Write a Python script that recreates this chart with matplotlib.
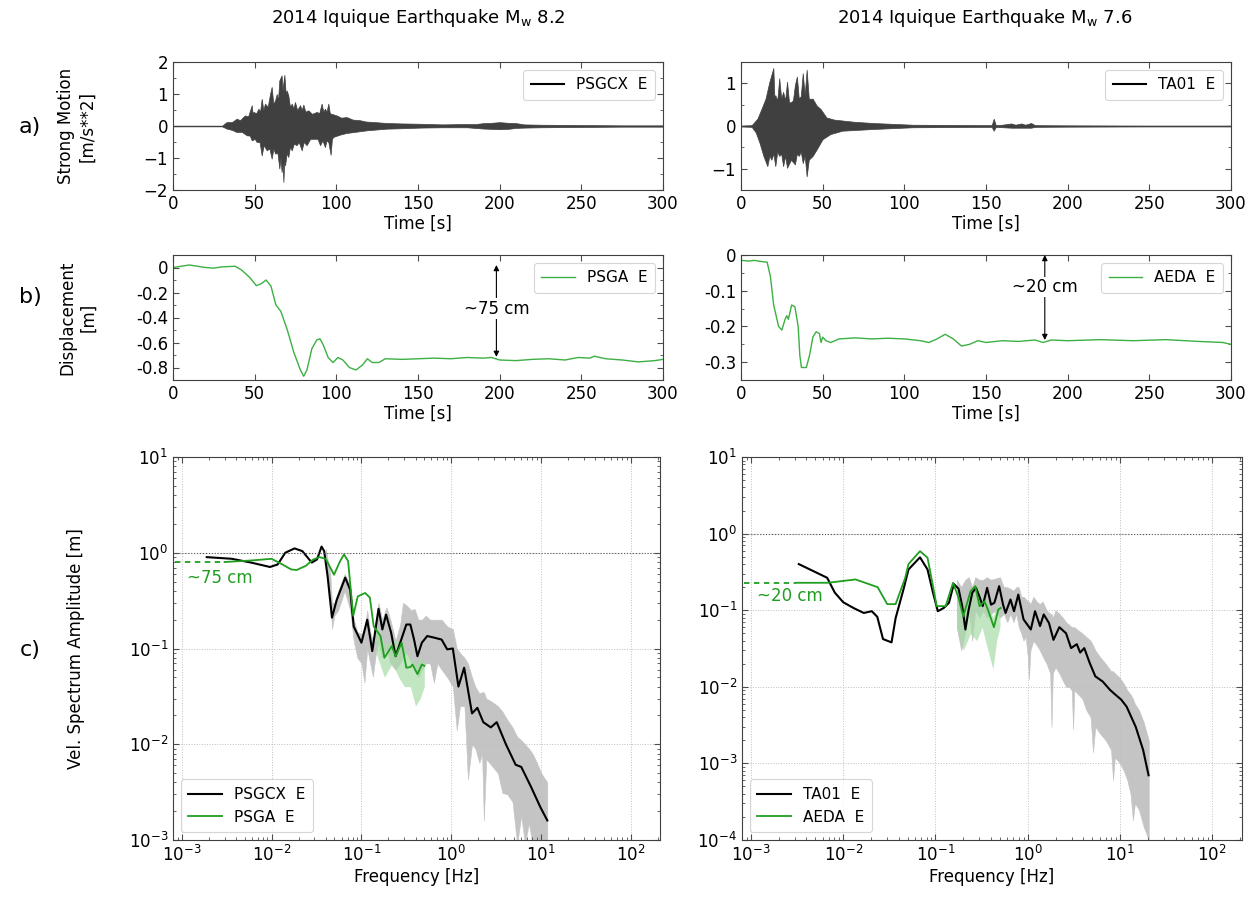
import numpy as np
import matplotlib.pyplot as plt
from matplotlib.ticker import MultipleLocator, LogLocator, NullFormatter

plt.rcParams['font.family'] = ['DejaVu Sans']

# ---- a) strong motion: upper and lower envelope of the trace, (time, value) ----
env_up_a1 = [(0, 0.01), (30, 0.01), (32.9, 0.125), (36, 0.12), (39, 0.23), (41, 0.18), (44, 0.33), (46, 0.3),
             (48.2, 0.65), (48.8, 0.35), (49.2, 0.44), (51, 0.4), (52.3, 0.54), (53.3, 0.45), (54.3, 0.85),
             (55.3, 0.5), (56.3, 0.7), (58, 0.6), (59.4, 1.0), (60.4, 1.22), (61.4, 0.7), (62.5, 0.8),
             (63.5, 1.0), (64.3, 0.8), (65.1, 1.43), (66.5, 1.58), (67.1, 1.1), (67.6, 1.37), (68.2, 1.6),
             (69, 1.0), (69.6, 1.11), (70.6, 0.96), (71.6, 0.6), (72.7, 0.7), (73.7, 0.55), (74.7, 0.75),
             (76, 0.5), (77.8, 0.65), (78.8, 0.5), (79.8, 0.67), (81, 0.45), (82.9, 0.49), (85, 0.38),
             (88, 0.44), (89.5, 0.4), (91, 0.7), (92, 0.45), (93, 0.54), (94, 0.45), (95.1, 0.7), (96, 0.4),
             (97.1, 0.38), (100.2, 0.33), (103, 0.26), (106.3, 0.28), (110, 0.2), (114.5, 0.18), (118, 0.14),
             (122.6, 0.125), (130.8, 0.094), (140, 0.08), (151.2, 0.07), (165, 0.05), (175.7, 0.06),
             (185, 0.06), (190, 0.09), (195, 0.1), (200, 0.12), (205, 0.1), (210, 0.09), (215, 0.05),
             (225, 0.04), (250, 0.03), (275, 0.02), (300, 0.02)]
env_lo_a1 = [(0, -0.01), (30, -0.01), (32.9, -0.083), (36, -0.12), (39, -0.19), (42, -0.18), (45.1, -0.29),
             (47, -0.3), (48.2, -0.45), (50, -0.4), (51.2, -0.5), (53, -0.5), (54.3, -0.92), (55.5, -0.6),
             (57.4, -0.76), (59, -0.7), (60.4, -1.02), (61.5, -0.7), (62.5, -0.86), (64, -0.85), (65.1, -1.33),
             (65.8, -1.0), (66.5, -1.44), (67.1, -1.2), (67.6, -1.75), (68.1, -1.1), (68.6, -1.23), (69.6, -0.85),
             (70.6, -0.97), (71.6, -0.65), (72.7, -0.76), (74, -0.55), (75.7, -0.6), (77, -0.5), (78.8, -0.76),
             (80, -0.5), (81.8, -0.6), (84, -0.4), (86.9, -0.4), (88.5, -0.4), (90, -0.6), (91.5, -0.45),
             (93, -0.66), (94, -0.45), (95.1, -0.5), (96.5, -0.9), (97.3, -0.4), (98.2, -0.34), (102.2, -0.27),
             (106, -0.22), (110.4, -0.19), (118.6, -0.135), (130.8, -0.083), (140, -0.07), (151.2, -0.05),
             (165, -0.04), (180, -0.04), (190, -0.08), (195, -0.09), (200, -0.1), (205, -0.09), (210, -0.06),
             (215, -0.05), (225, -0.04), (250, -0.03), (275, -0.02), (300, -0.02)]

env_up_a2 = [(0, 0.01), (6.5, 0.02), (10, 0.17), (12.5, 0.4), (15, 0.64), (17.4, 1.04), (19.8, 1.36), (20.4, 0.7),
             (21, 0.72), (22.2, 0.6), (23.4, 1.12), (24.6, 0.65), (25.8, 0.8), (27, 0.6), (28.2, 1.04), (29.4, 0.55),
             (30.6, 0.56), (31.8, 0.6), (33, 0.96), (34.2, 1.16), (35.4, 0.64), (36.6, 0.7), (37.8, 1.24), (39, 0.72),
             (40.2, 1.32), (41.5, 0.64), (43.9, 0.64), (46.3, 0.48), (48.7, 0.4), (52.3, 0.2), (57, 0.15), (69, 0.1),
             (81, 0.07), (105, 0.03), (129, 0.025), (150, 0.02), (153.5, 0.02), (154.7, 0.17), (156, 0.02),
             (160, 0.03), (165.5, 0.06), (168, 0.03), (171.6, 0.06), (174, 0.03), (177.6, 0.07), (180, 0.02),
             (201, 0.015), (250, 0.01), (300, 0.01)]
env_lo_a2 = [(0, -0.01), (6.5, -0.02), (9, -0.15), (11.3, -0.39), (13.7, -0.7), (16.1, -0.94), (17.4, -0.7),
             (18.6, -0.79), (19.8, -0.65), (21, -0.94), (22.2, -0.6), (23.4, -0.7), (24.6, -0.65), (25.8, -0.94),
             (27, -0.7), (28.2, -0.98), (30.6, -0.79), (33, -0.9), (34.2, -0.65), (35.4, -0.7), (36.6, -0.6),
             (37.8, -0.87), (39, -0.7), (40.2, -1.18), (41.5, -0.79), (43.9, -0.7), (46.3, -0.55), (49.9, -0.31),
             (54.7, -0.19), (62, -0.11), (81, -0.07), (105, -0.03), (150, -0.02), (153.5, -0.02), (154.7, -0.11),
             (156, -0.02), (165.5, -0.04), (171.6, -0.04), (177.6, -0.04), (180, -0.02), (201, -0.015),
             (250, -0.01), (300, -0.01)]

# ---- b) displacement ----
t_b1 = [0, 10, 20, 25, 30, 38, 42, 47, 51, 54, 57, 60, 63, 66, 70, 74, 78, 80, 82, 85,
        88, 90, 92, 95, 98, 101, 104, 108, 112, 116, 119, 122, 126, 130, 140, 150, 160, 170, 180, 190,
        195, 200, 210, 220, 230, 240, 248, 255, 258, 265, 275, 285, 295, 300]
d_b1 = [0.0, 0.02, 0.0, -0.005, 0.005, 0.01, -0.02, -0.08, -0.145, -0.13, -0.1, -0.15, -0.3, -0.35, -0.5, -0.68, -0.82, -0.87, -0.82, -0.65,
        -0.58, -0.57, -0.62, -0.72, -0.76, -0.72, -0.74, -0.8, -0.82, -0.78, -0.73, -0.76, -0.76, -0.73, -0.735, -0.73, -0.725, -0.73, -0.72, -0.725,
        -0.72, -0.74, -0.745, -0.735, -0.73, -0.74, -0.72, -0.725, -0.71, -0.73, -0.74, -0.755, -0.745, -0.735]

t_b2 = [0, 5, 8, 12, 16, 18, 20, 23, 25, 27, 28, 29, 31, 33, 35, 36, 37, 40, 42, 44,
        46, 48, 49, 50, 52, 55, 60, 70, 80, 90, 100, 110, 115, 120, 125, 130, 135, 140, 145, 150,
        160, 170, 180, 185, 190, 200, 220, 240, 260, 280, 295, 300]
d_b2 = [-0.015, -0.017, -0.015, -0.018, -0.02, -0.06, -0.14, -0.2, -0.21, -0.18, -0.17, -0.18, -0.14, -0.145, -0.2, -0.28, -0.315, -0.315, -0.28, -0.23,
        -0.215, -0.22, -0.245, -0.23, -0.24, -0.245, -0.235, -0.232, -0.235, -0.233, -0.235, -0.24, -0.245, -0.235, -0.222, -0.235, -0.255, -0.25, -0.24, -0.245,
        -0.24, -0.242, -0.238, -0.245, -0.238, -0.24, -0.237, -0.24, -0.237, -0.242, -0.245, -0.25]

# ---- c) velocity spectra (smoothed) ----
f_k1 = [0.0019, 0.0036, 0.0059, 0.0096, 0.0117, 0.0142, 0.018, 0.022, 0.028, 0.032,
        0.036, 0.0385, 0.042, 0.047, 0.053, 0.066, 0.075, 0.082, 0.1, 0.116,
        0.132, 0.155, 0.171, 0.188, 0.214, 0.24, 0.27, 0.316, 0.35, 0.385,
        0.42, 0.47, 0.54, 0.64, 0.78, 0.9, 1.04, 1.2, 1.39, 1.7,
        1.95, 2.27, 2.75, 3.2, 4.05, 5.2, 6.0, 7.7, 9.8, 11.7]
A_k1 = [0.90, 0.865, 0.79, 0.71, 0.755, 1.0, 1.11, 1.04, 0.79, 0.85,
        1.16, 1.04, 0.57, 0.21, 0.32, 0.55, 0.41, 0.17, 0.115, 0.20,
        0.094, 0.26, 0.158, 0.226, 0.146, 0.083, 0.115, 0.178, 0.178, 0.124,
        0.083, 0.115, 0.135, 0.13, 0.124, 0.098, 0.10, 0.04, 0.063, 0.021,
        0.024, 0.017, 0.015, 0.017, 0.010, 0.0061, 0.0058, 0.0036, 0.0022, 0.0016]
f_g1 = [0.003, 0.0059, 0.01, 0.013, 0.0165, 0.019, 0.024, 0.029, 0.034, 0.04,
        0.0495, 0.058, 0.064, 0.071, 0.081, 0.091, 0.11, 0.124, 0.137, 0.163,
        0.18, 0.218, 0.24, 0.28, 0.316, 0.35, 0.37, 0.42, 0.47, 0.5]
A_g1 = [0.80, 0.83, 0.865, 0.76, 0.67, 0.66, 0.73, 0.85, 0.90, 0.865,
        0.59, 0.82, 0.96, 0.82, 0.22, 0.35, 0.38, 0.34, 0.17, 0.135,
        0.08, 0.106, 0.083, 0.115, 0.063, 0.064, 0.068, 0.054, 0.068, 0.066]
dash_f1 = [8.5e-4, 0.003]
dash_A1 = [0.80, 0.80]

f_k2 = [0.0033, 0.0067, 0.0081, 0.01, 0.0129, 0.0167, 0.0204, 0.0234, 0.027, 0.0334,
        0.037, 0.045, 0.051, 0.068, 0.082, 0.094, 0.106, 0.123, 0.14, 0.158,
        0.178, 0.195, 0.211, 0.229, 0.251, 0.275, 0.30, 0.325, 0.363, 0.40,
        0.435, 0.49, 0.54, 0.575, 0.65, 0.71, 0.79, 0.9, 1.08, 1.2,
        1.36, 1.49, 1.7, 1.9, 2.2, 2.6, 2.95, 3.4, 3.7, 4.1,
        4.7, 5.4, 6.5, 7.8, 8.9, 10.3, 11.8, 14.8, 17.8, 20.4]
A_k2 = [0.40, 0.265, 0.17, 0.127, 0.107, 0.092, 0.097, 0.082, 0.042, 0.038,
        0.079, 0.187, 0.34, 0.49, 0.34, 0.17, 0.097, 0.107, 0.125, 0.22,
        0.19, 0.113, 0.056, 0.102, 0.17, 0.196, 0.15, 0.113, 0.196, 0.118,
        0.125, 0.206, 0.118, 0.092, 0.138, 0.097, 0.16, 0.076, 0.056, 0.097,
        0.062, 0.088, 0.068, 0.041, 0.060, 0.050, 0.032, 0.036, 0.028, 0.032,
        0.0204, 0.0137, 0.0117, 0.0091, 0.0079, 0.0068, 0.0055, 0.003, 0.0015, 0.0007]
f_g2 = [0.0031, 0.0068, 0.0136, 0.0236, 0.030, 0.037, 0.047, 0.051, 0.068, 0.082,
        0.094, 0.103, 0.129, 0.155, 0.178, 0.2, 0.24, 0.27, 0.3, 0.34,
        0.37, 0.43, 0.48, 0.51]
A_g2 = [0.228, 0.228, 0.252, 0.20, 0.12, 0.12, 0.265, 0.40, 0.59, 0.485,
        0.206, 0.113, 0.113, 0.228, 0.145, 0.083, 0.177, 0.206, 0.113, 0.131,
        0.102, 0.06, 0.102, 0.107]
dash_f2 = [8.5e-4, 0.0031]
dash_A2 = [0.228, 0.228]

# raw spectra, grey band: (freq, upper, lower)
raw1 = [(0.04, 1.1, 0.7), (0.045, 0.6, 0.35), (0.047, 0.3, 0.16), (0.05, 0.3, 0.22), (0.055, 0.4, 0.25),
        (0.065, 0.6, 0.4), (0.075, 0.45, 0.25), (0.082, 0.2, 0.12), (0.09, 0.15, 0.08), (0.1, 0.14, 0.07),
        (0.108, 0.16, 0.044), (0.116, 0.25, 0.1), (0.125, 0.15, 0.07), (0.134, 0.12, 0.051), (0.145, 0.2, 0.09),
        (0.155, 0.3, 0.12), (0.17, 0.2, 0.08), (0.19, 0.27, 0.1), (0.21, 0.2, 0.07), (0.24, 0.12, 0.06),
        (0.27, 0.18, 0.07), (0.29, 0.3, 0.08), (0.32, 0.28, 0.09), (0.36, 0.25, 0.07), (0.39, 0.26, 0.06),
        (0.43, 0.2, 0.05), (0.47, 0.2, 0.06), (0.52, 0.22, 0.07), (0.58, 0.2, 0.07), (0.64, 0.2, 0.044),
        (0.7, 0.2, 0.07), (0.78, 0.2, 0.06), (0.9, 0.17, 0.05), (1.04, 0.16, 0.04), (1.15, 0.1, 0.014),
        (1.25, 0.09, 0.025), (1.4, 0.08, 0.025), (1.53, 0.07, 0.0043), (1.7, 0.05, 0.01), (1.85, 0.04, 0.009),
        (2.05, 0.034, 0.0064), (2.2, 0.035, 0.008), (2.3, 0.035, 0.0016), (2.45, 0.03, 0.007), (2.8, 0.028, 0.006),
        (3.3, 0.025, 0.005), (3.7, 0.022, 0.0031), (4.2, 0.018, 0.003), (4.8, 0.015, 0.0025), (5.4, 0.012, 0.0009),
        (6.0, 0.011, 0.0018), (6.6, 0.01, 0.0009), (7.3, 0.009, 0.0015), (8.0, 0.008, 0.0009), (8.9, 0.0065, 0.0009),
        (10, 0.005, 0.0009), (11.7, 0.004, 0.0009)]
raw2 = [(0.17, 0.25, 0.06), (0.19, 0.2, 0.03), (0.21, 0.25, 0.05), (0.23, 0.27, 0.1), (0.25, 0.2, 0.04),
        (0.27, 0.27, 0.1), (0.3, 0.25, 0.08), (0.33, 0.25, 0.1), (0.36, 0.27, 0.08), (0.4, 0.25, 0.09),
        (0.45, 0.26, 0.1), (0.5, 0.27, 0.08), (0.55, 0.2, 0.09), (0.6, 0.2, 0.07), (0.65, 0.19, 0.09),
        (0.7, 0.18, 0.07), (0.75, 0.2, 0.09), (0.8, 0.2, 0.06), (0.85, 0.15, 0.05), (0.9, 0.15, 0.04),
        (0.95, 0.14, 0.045), (1.0, 0.13, 0.025), (1.03, 0.13, 0.0125), (1.07, 0.12, 0.03), (1.15, 0.15, 0.04),
        (1.25, 0.13, 0.035), (1.35, 0.12, 0.03), (1.45, 0.13, 0.025), (1.6, 0.1, 0.02), (1.75, 0.09, 0.015),
        (1.81, 0.09, 0.003), (1.87, 0.08, 0.015), (2.0, 0.1, 0.018), (2.2, 0.09, 0.015), (2.4, 0.08, 0.012),
        (2.6, 0.07, 0.01), (2.8, 0.065, 0.01), (3.0, 0.06, 0.009), (3.1, 0.06, 0.0028), (3.2, 0.06, 0.009),
        (3.5, 0.055, 0.008), (3.9, 0.05, 0.007), (4.3, 0.045, 0.005), (4.8, 0.04, 0.004), (5.1, 0.035, 0.0014),
        (5.4, 0.03, 0.003), (6.0, 0.025, 0.0025), (7.0, 0.02, 0.002), (8.0, 0.016, 0.0015), (8.4, 0.016, 0.0006),
        (8.8, 0.015, 0.0012), (10, 0.013, 0.001), (11, 0.011, 0.0008), (12, 0.009, 0.0006), (13, 0.008, 0.0004),
        (13.8, 0.007, 0.00018), (14.5, 0.006, 0.0003), (16, 0.005, 0.00025), (18, 0.0035, 0.00015),
        (20.5, 0.002, 0.0001)]
# raw GPS spectra, light green band
raw_g1 = [(0.14, 0.2, 0.1), (0.18, 0.11, 0.05), (0.22, 0.12, 0.07), (0.26, 0.12, 0.05), (0.3, 0.1, 0.04),
          (0.35, 0.08, 0.04), (0.4, 0.07, 0.025), (0.45, 0.08, 0.03), (0.5, 0.07, 0.04)]
raw_g2 = [(0.17, 0.2, 0.06), (0.2, 0.11, 0.03), (0.24, 0.2, 0.05), (0.28, 0.22, 0.04), (0.32, 0.15, 0.06),
          (0.37, 0.13, 0.03), (0.42, 0.08, 0.017), (0.46, 0.12, 0.04), (0.5, 0.11, 0.06)]

titles = ['2014 Iquique Earthquake M$_\\mathrm{w}$ 8.2', '2014 Iquique Earthquake M$_\\mathrm{w}$ 7.6']
sm_names = ['PSGCX  E', 'TA01  E']
gps_names = ['PSGA  E', 'AEDA  E']
offsets = ['~75 cm', '~20 cm']

W, H = 1256, 898
fig = plt.figure(figsize=(W / 100, H / 100), dpi=100)

def box(x, y, w, h):
    return [x / W, 1 - (y + h) / H, w / W, h / H]

GREEN = '#1f9e1f'
FS = 12

def style(ax):
    ax.tick_params(which='both', direction='in', top=True, right=True, labelsize=FS,
                   color='0.3', length=4)
    ax.tick_params(which='minor', length=2)
    for s in ax.spines.values():
        s.set_color('0.25')
        s.set_linewidth(0.8)

def legend(ax, loc):
    lg = ax.legend(loc=loc, fontsize=11, frameon=True, fancybox=True, edgecolor='0.8',
                   handlelength=2.2, borderpad=0.5)
    lg.get_frame().set_linewidth(0.8)
    return lg

# a) panels
ax1 = fig.add_axes(box(173, 62, 490, 128))
ax2 = fig.add_axes(box(741, 62, 490, 128))
for ax, eu, el, name, yl in [(ax1, env_up_a1, env_lo_a1, sm_names[0], (-2, 2)),
                             (ax2, env_up_a2, env_lo_a2, sm_names[1], (-1.5, 1.5))]:
    tu, vu = zip(*eu)
    tl, vl = zip(*el)
    ax.fill_between(tu, 0, vu, color='#404040', lw=0.5, edgecolor='#404040')
    ax.fill_between(tl, vl, 0, color='#404040', lw=0.5, edgecolor='#404040')
    ax.axhline(0, color='#404040', lw=0.8)
    ax.plot([], [], color='black', lw=1.5, label=name)
    ax.set_xlim(0, 300)
    ax.set_ylim(*yl)
    ax.xaxis.set_major_locator(MultipleLocator(50))
    ax.yaxis.set_major_locator(MultipleLocator(1))
    ax.yaxis.set_minor_locator(MultipleLocator(0.5))
    ax.set_xlabel('Time [s]', fontsize=FS, labelpad=1)
    style(ax)
    legend(ax, 'upper right')
ax1.set_ylabel('Strong Motion\n[m/s**2]', fontsize=FS)
ax1.yaxis.set_label_coords((96 - 173) / 490, 0.5)

# b) panels
bx1 = fig.add_axes(box(173, 255, 490, 125))
bx2 = fig.add_axes(box(741, 255, 490, 125))
for ax, t, d, name, yl, step in [(bx1, t_b1, d_b1, gps_names[0], (-0.9, 0.1), 0.2),
                                 (bx2, t_b2, d_b2, gps_names[1], (-0.35, 0.0), 0.1)]:
    ax.plot(t, d, color='#3cb043', lw=1.0, label=name)
    ax.set_xlim(0, 300)
    ax.set_ylim(*yl)
    ax.xaxis.set_major_locator(MultipleLocator(50))
    ax.yaxis.set_major_locator(MultipleLocator(step))
    ax.yaxis.set_minor_locator(MultipleLocator(step / 2))
    ax.yaxis.set_major_formatter(plt.FuncFormatter(lambda v, p: f'{v:g}'))
    ax.set_xlabel('Time [s]', fontsize=FS, labelpad=1)
    style(ax)
    legend(ax, 'upper right')
bx1.set_ylabel('Displacement\n[m]', fontsize=FS)
bx1.yaxis.set_label_coords((97 - 173) / 490, 0.5)

for ax, x, top, bot, txt, ty in [(bx1, 198, 0.02, -0.715, offsets[0], -0.33),
                                 (bx2, 186, 0.0, -0.238, offsets[1], -0.09)]:
    ax.annotate('', xy=(x, top), xytext=(x, bot),
                arrowprops=dict(arrowstyle='<|-|>', color='black', lw=0.8,
                                mutation_scale=8, shrinkA=0, shrinkB=0))
    ax.text(x, ty, txt, ha='center', va='center', fontsize=FS,
            bbox=dict(facecolor='white', edgecolor='none', pad=1))

# c) panels
cx1 = fig.add_axes(box(173, 457, 487, 383))
cx2 = fig.add_axes(box(742, 457, 500, 383))
specs = [(cx1, raw1, raw_g1, f_k1, A_k1, f_g1, A_g1, dash_f1, dash_A1, (1e-3, 1e1), offsets[0], 0.55),
         (cx2, raw2, raw_g2, f_k2, A_k2, f_g2, A_g2, dash_f2, dash_A2, (1e-4, 1e1), offsets[1], 0.155)]
for i, (ax, raw, rawg, fk, Ak, fg, Ag, df, dA, yl, txt, ty) in enumerate(specs):
    ax.set_xscale('log')
    ax.set_yscale('log')
    gf, gup, glo = zip(*raw)
    ax.fill_between(gf, glo, gup, color='#c4c4c4', lw=0.4, edgecolor='#c4c4c4')
    lf, lup, llo = zip(*rawg)
    ax.fill_between(lf, llo, lup, color='#a8dca8', lw=0, alpha=0.7)
    ax.plot(fk, Ak, color='black', lw=1.5, label=sm_names[i])
    ax.plot(fg, Ag, color=GREEN, lw=1.3, label=gps_names[i])
    ax.plot(df, dA, color=GREEN, lw=1.3, ls='--', dashes=(3, 2.5))
    ax.text(1.15e-3, ty, txt, color=GREEN, fontsize=FS, ha='left', va='center')
    ax.set_xlim(8e-4, 2.1e2)
    ax.set_ylim(*yl)
    ax.xaxis.set_major_locator(LogLocator(base=10, numticks=20))
    ax.yaxis.set_major_locator(LogLocator(base=10, numticks=20))
    ax.xaxis.set_minor_locator(LogLocator(base=10, subs=np.arange(2, 10), numticks=20))
    ax.yaxis.set_minor_locator(LogLocator(base=10, subs=np.arange(2, 10), numticks=20))
    ax.xaxis.set_minor_formatter(NullFormatter())
    ax.yaxis.set_minor_formatter(NullFormatter())
    ax.grid(True, which='major', ls=':', color='0.75', lw=0.7)
    ax.axhline(1.0, ls=':', color='0.35', lw=0.8)
    ax.set_xlabel('Frequency [Hz]', fontsize=FS, labelpad=2)
    style(ax)
    legend(ax, 'lower left')
cx1.set_ylabel('Vel. Spectrum Amplitude [m]', fontsize=FS)
cx1.yaxis.set_label_coords((85 - 173) / 487, 0.5)

# titles and row labels
fig.text(418 / W, 1 - 18 / H, titles[0], ha='center', va='center', fontsize=13)
fig.text(985 / W, 1 - 18 / H, titles[1], ha='center', va='center', fontsize=13)
for lab, y in [('a)', 127), ('b)', 297), ('c)', 650)]:
    fig.text(30 / W, 1 - y / H, lab, ha='center', va='center', fontsize=16)

fig.savefig('out.png', dpi=100)
